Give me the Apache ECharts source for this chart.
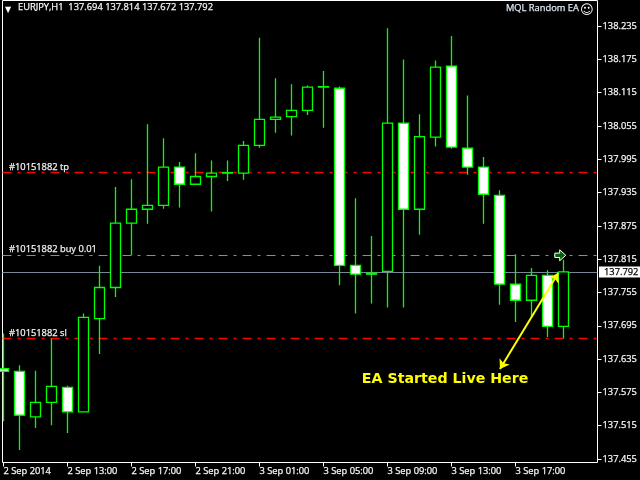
<!DOCTYPE html>
<html><head><meta charset="utf-8">
<style>html,body{margin:0;padding:0;background:#000}#c{width:640px;height:480px}</style>
<script src="https://cdn.jsdelivr.net/npm/echarts@6/dist/echarts.min.js"></script>
</head><body><div id="c"></div>
<script>
const categories = ["2 Sep 2014","2 Sep 10:00","2 Sep 11:00","2 Sep 12:00","2 Sep 13:00","2 Sep 14:00","2 Sep 15:00","2 Sep 16:00","2 Sep 17:00","2 Sep 18:00","2 Sep 19:00","2 Sep 20:00","2 Sep 21:00","2 Sep 22:00","2 Sep 23:00","3 Sep 00:00","3 Sep 01:00","3 Sep 02:00","3 Sep 03:00","3 Sep 04:00","3 Sep 05:00","3 Sep 06:00","3 Sep 07:00","3 Sep 08:00","3 Sep 09:00","3 Sep 10:00","3 Sep 11:00","3 Sep 12:00","3 Sep 13:00","3 Sep 14:00","3 Sep 15:00","3 Sep 16:00","3 Sep 17:00","3 Sep 18:00","3 Sep 19:00","3 Sep 20:00","",""];
const opens  = [137.618,137.613,137.531,137.557,137.584,137.540,137.708,137.764,137.880,137.905,137.912,137.981,137.950,137.964,137.970,137.970,138.020,138.067,138.072,138.083,138.125,138.123,137.804,137.790,137.793,138.060,137.905,138.035,138.163,138.015,137.981,137.930,137.770,137.741,137.786,137.694];
const closes = [137.613,137.534,137.557,137.586,137.540,137.710,137.764,137.880,137.905,137.912,137.981,137.950,137.964,137.970,137.971,138.020,138.067,138.071,138.083,138.125,138.126,137.804,137.788,137.788,138.060,137.905,138.036,138.161,138.017,137.981,137.932,137.770,137.741,137.786,137.694,137.792];
const lows   = [137.523,137.471,137.511,137.516,137.502,137.540,137.644,137.747,137.822,137.879,137.906,137.908,137.950,137.901,137.956,137.958,138.016,138.043,138.038,138.075,138.052,137.768,137.717,137.735,137.728,137.728,137.859,138.018,138.014,137.967,137.879,137.733,137.702,137.711,137.675,137.672];
const highs  = [137.681,137.624,137.614,137.672,137.587,137.717,137.803,137.945,137.959,138.058,138.033,137.990,138.006,137.993,137.993,138.028,138.214,138.141,138.130,138.128,138.154,138.126,137.925,137.857,138.231,138.175,138.076,138.173,138.217,138.110,137.999,137.939,137.824,137.799,137.795,137.814];
const priceTicks = [137.455,137.515,137.575,137.635,137.695,137.755,137.815,137.875,137.935,137.995,138.055,138.115,138.175,138.235];
const tpPrice = 137.971, entryPrice = 137.822, slPrice = 137.672, bidPrice = 137.792;
const tpLabel = "#10151882 tp", entryLabel = "#10151882 buy 0.01", slLabel = "#10151882 sl";
const headerText = "EURJPY,H1  137.694 137.814 137.672 137.792";
const eaText = "MQL Random EA";
const noteText = "EA Started Live Here";
const notePoint = [27.6, 137.598];
const arrowStart = [34.675, 137.790], arrowEnd = [31.03, 137.617];
const entryMark = [34.8, 137.822];

const yMin = 137.4487, yMax = 138.2811;
const uiFont = 'Open Sans';
const uiSize = 9.3;
const txt = (c) => ({color:c, textBorderColor:c, textBorderWidth:0.25, fontFamily:uiFont, fontSize:uiSize, fontWeight:'normal'});
const dashDot = [9,6,3,6];
const lineLabel = (t) => Object.assign({show:true, formatter:t, position:'insideStartTop', distance:[6.5,1]}, txt('#f4f4f4'));

const seriesData = opens.map((o,i)=>[o,closes[i],lows[i],highs[i]]);
const chart = echarts.init(document.getElementById('c'), null, {renderer:'canvas'});
chart.setOption({
  animation:false,
  backgroundColor:'#000',
  title:[
    {text:'\u25BC', left:5, top:6, padding:0, textStyle:{color:'#fff', fontSize:8, fontWeight:'normal', fontFamily:'DejaVu Sans'}},
    {text:headerText, left:18, top:3, padding:0, textStyle:txt('#f8f8f8')},
    {text:eaText, left:506, top:4, padding:0, textStyle:txt('#dce8f4')},
    {text:'\u263A', left:580, top:4, padding:0, textStyle:{color:'#fff', fontSize:13, fontWeight:'normal', fontFamily:'DejaVu Sans'}}
  ],
  grid:[
    {left:3.5, top:0.5, width:592, height:462, show:false},
    {left:2.5, top:0.5, width:595, height:462, show:true, borderColor:'#fff', borderWidth:1, backgroundColor:'#000'}
  ],
  xAxis:[
    {type:'category', gridIndex:0, data:categories, boundaryGap:false,
     axisLine:{show:false},
     axisTick:{show:true, length:4, lineStyle:{color:'#fff'}, interval:(i)=>i%4===0 && i<=32},
     axisLabel:Object.assign(txt('#f8f8f8'),{align:'left', margin:4, interval:(i)=>i%4===0 && i<=32, hideOverlap:false}),
     splitLine:{show:false}},
    {type:'value', gridIndex:1, min:-0.0625, max:37.125, show:false, splitLine:{show:false}}
  ],
  yAxis:[
    {type:'value', gridIndex:0, position:'right', offset:2, min:yMin, max:yMax, scale:true,
     axisLine:{show:false},
     axisTick:{show:true, length:4, lineStyle:{color:'#fff'}, customValues:priceTicks},
     axisLabel:Object.assign(txt('#f8f8f8'),{margin:5, customValues:priceTicks, formatter:(v)=>v.toFixed(3)}),
     splitLine:{show:false}},
    {type:'value', gridIndex:1, min:yMin, max:yMax, scale:true, show:false, splitLine:{show:false}}
  ],
  series:[
    {type:'line', xAxisIndex:1, yAxisIndex:1, data:[], z:2, silent:true,
     markLine:{silent:true, symbol:'none', animation:false, precision:3, z:2,
       data:[
        {yAxis:tpPrice, lineStyle:{color:'#ff0000', width:1.4, type:dashDot}, label:lineLabel(tpLabel)},
        {yAxis:entryPrice, lineStyle:{color:'#32cd32', width:1, type:dashDot}, label:lineLabel(entryLabel)},
        {yAxis:slPrice, lineStyle:{color:'#ff0000', width:1.4, type:dashDot}, label:lineLabel(slLabel)},
        {yAxis:bidPrice, lineStyle:{color:'#778899', width:1, type:'solid'},
         label:Object.assign(txt('#000'),{show:true, position:'end', distance:1.5, formatter:(p)=>bidPrice.toFixed(3), backgroundColor:'#fff', padding:[1,6,1,5]})}
       ]}
    },
    {type:'candlestick', xAxisIndex:0, yAxisIndex:0, data:seriesData, barWidth:10, clip:true, z:3,
     itemStyle:{color:'#000', color0:'#fff', borderColor:'#00ff00', borderColor0:'#00ff00', borderWidth:1.3}
    },
    {type:'line', xAxisIndex:1, yAxisIndex:1, data:[], z:6, silent:true,
     markLine:{silent:true, symbol:['arrow','arrow'], symbolSize:9, animation:false, precision:3, z:6,
       lineStyle:{color:'#ffff00', width:2, type:'solid'}, label:{show:false},
       data:[[{coord:arrowStart},{coord:arrowEnd}]]},
     markPoint:{silent:true, animation:false, z:7,
       data:[
        {coord:notePoint, symbol:'circle', symbolSize:0, label:{show:true, position:'inside', formatter:noteText, color:'#ffff00', fontFamily:'DejaVu Sans', fontWeight:'bold', fontSize:14.2}},
        {coord:entryMark, symbol:'path://M0,3 L4,3 L4,0 L9,5 L4,10 L4,7 L0,7 Z', symbolSize:[11,11], itemStyle:{color:'#006400', borderColor:'#fff', borderWidth:1}, label:{show:false}}
       ]}
    }
  ]
});
</script></body></html>
